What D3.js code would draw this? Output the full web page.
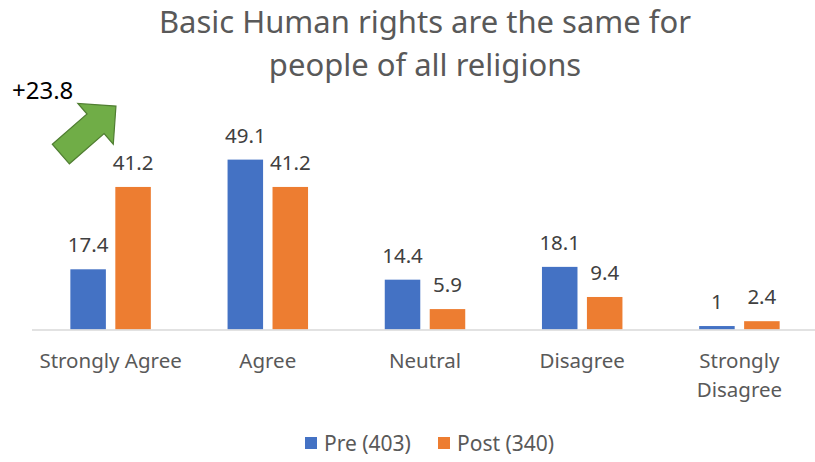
<!DOCTYPE html>
<html>
<head>
<meta charset="utf-8">
<script src="https://cdn.jsdelivr.net/npm/d3@7"></script>
<style>
  html, body { margin: 0; padding: 0; background: #fff; }
  svg { display: block; font-family: "Noto Sans", "Open Sans", sans-serif; }
</style>
</head>
<body>
<div id="chart"></div>
<script>
const categories = ["Strongly Agree", "Agree", "Neutral", "Disagree", "Strongly Disagree"];
const tickLines = [["Strongly Agree"], ["Agree"], ["Neutral"], ["Disagree"], ["Strongly", "Disagree"]];
const seriesNames = ["Pre (403)", "Post (340)"];
const preValues = [17.4, 49.1, 14.4, 18.1, 1];
const postValues = [41.2, 41.2, 5.9, 9.4, 2.4];
const seriesColors = ["#4472C4", "#ED7D31"];
const titleLines = ["Basic Human rights are the same for", "people of all religions"];
const changeLabel = "+23.8";

const WIDTH = 815;
const HEIGHT = 462;
const margin = { left: 32, right: -3, baseline: 329.5 };

const series = [preValues, postValues];

const svg = d3.select("#chart")
  .append("svg")
  .attr("width", WIDTH)
  .attr("height", HEIGHT);

const x0 = d3.scaleBand()
  .domain(categories)
  .range([margin.left, WIDTH - margin.right])
  .paddingInner(0.488)
  .paddingOuter(0.244);

const x1 = d3.scaleBand()
  .domain(seriesNames)
  .range([0, x0.bandwidth()])
  .paddingInner(0.21);

const y = d3.scaleLinear()
  .domain([0, 60])
  .range([margin.baseline, margin.baseline - 60 * 3.46]);

// title
svg.append("g")
  .selectAll("text")
  .data(titleLines)
  .enter()
  .append("text")
  .attr("x", (margin.left + WIDTH - margin.right) / 2)
  .attr("y", (d, i) => 33 + i * 43)
  .attr("text-anchor", "middle")
  .style("font-size", "31px")
  .style("fill", "#595959")
  .text(d => d);

// bars
const groups = svg.append("g")
  .selectAll("g")
  .data(categories)
  .enter()
  .append("g")
  .attr("transform", d => `translate(${x0(d)},0)`);

groups.selectAll("rect")
  .data((c, ci) => seriesNames.map((s, si) => ({ s, si, v: series[si][ci] })))
  .enter()
  .append("rect")
  .attr("x", d => x1(d.s))
  .attr("y", d => y(d.v))
  .attr("width", x1.bandwidth())
  .attr("height", d => y(0) - y(d.v))
  .style("fill", d => seriesColors[d.si]);

groups.selectAll("text")
  .data((c, ci) => seriesNames.map((s, si) => ({ s, si, v: series[si][ci] })))
  .enter()
  .append("text")
  .attr("x", d => x1(d.s) + x1.bandwidth() / 2)
  .attr("y", d => y(d.v) - 17)
  .attr("text-anchor", "middle")
  .style("font-size", "20.5px")
  .style("fill", "#404040")
  .text(d => d.v);

// axis line
svg.append("line")
  .attr("x1", margin.left)
  .attr("x2", WIDTH - margin.right)
  .attr("y1", y(0) + 0.5)
  .attr("y2", y(0) + 0.5)
  .style("stroke", "#D9D9D9")
  .style("stroke-width", 1.3);

// category labels
const ticks = svg.append("g")
  .selectAll("text")
  .data(categories)
  .enter()
  .append("text")
  .attr("text-anchor", "middle")
  .style("font-size", "20.5px")
  .style("fill", "#595959");

ticks.each(function(d, i) {
  const cx = x0(d) + x0.bandwidth() / 2;
  d3.select(this)
    .selectAll("tspan")
    .data(tickLines[i])
    .enter()
    .append("tspan")
    .attr("x", cx)
    .attr("y", (t, j) => 368 + j * 29)
    .text(t => t);
});

// legend
const legend = svg.append("g")
  .selectAll("g")
  .data(seriesNames)
  .enter()
  .append("g")
  .attr("transform", (d, i) => `translate(${i === 0 ? 305 : 438},437)`);

legend.append("rect")
  .attr("width", 12)
  .attr("height", 12)
  .style("fill", (d, i) => seriesColors[i]);

legend.append("text")
  .attr("x", 19)
  .attr("y", 14)
  .style("font-size", "21px")
  .style("fill", "#595959")
  .text(d => d);

// change annotation: green arrow + label
const arrowStart = x0(categories[0]) - 9.5;
svg.append("path")
  .attr("d", "M0,-13 L46,-13 L46,-27 L73,0 L46,27 L46,13 L0,13 Z")
  .attr("transform", `translate(${arrowStart},154) rotate(-41)`)
  .style("fill", "#70AD47")
  .style("stroke", "#507E32")
  .style("stroke-width", 1.2);

svg.append("text")
  .attr("x", 12)
  .attr("y", 99)
  .style("font-size", "24px")
  .style("fill", "#000")
  .text(changeLabel);
</script>
</body>
</html>
